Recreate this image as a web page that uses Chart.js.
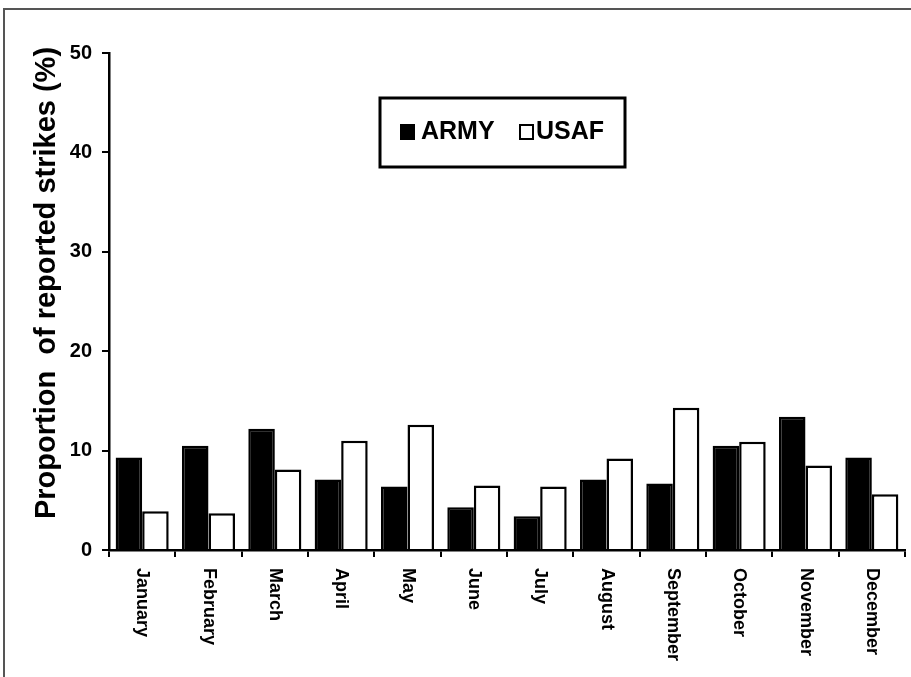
<!DOCTYPE html>
<html>
<head>
<meta charset="utf-8">
<title>Proportion of reported strikes</title>
<script src="https://cdn.jsdelivr.net/npm/chart.js@4"></script>
<style>
  html, body { margin: 0; padding: 0; background: #fff; overflow: hidden; }
  #wrap { position: relative; width: 911px; height: 677px; }
  #frame { position: absolute; left: 3px; top: 8px; width: 950px; height: 700px;
           border-left: 2px solid #555; border-top: 2px solid #555; }
  #c { position: absolute; left: 0; top: 0; }
</style>
</head>
<body>
<div id="wrap">
  <div id="frame"></div>
  <canvas id="c" width="911" height="677"></canvas>
</div>
<script>
const months = ["January","February","March","April","May","June","July","August","September","October","November","December"];
const army = [9.3, 10.5, 12.2, 7.1, 6.4, 4.3, 3.4, 7.1, 6.7, 10.5, 13.4, 9.3];
const usaf = [3.9, 3.7, 8.1, 11.0, 12.6, 6.5, 6.4, 9.2, 14.3, 10.9, 8.5, 5.6];
const yTicks = [0, 10, 20, 30, 40, 50];
const yTitle = "Proportion  of reported strikes (%)";

Chart.defaults.font.family = 'Arial, "Liberation Sans", sans-serif';
Chart.defaults.color = "#000";

// month names read top-to-bottom, so they are drawn here instead of by the axis
const monthLabels = {
  id: "monthLabels",
  afterDraw(chart) {
    const ctx = chart.ctx;
    const x = chart.scales.x;
    ctx.save();
    ctx.font = "bold 18px Arial, 'Liberation Sans', sans-serif";
    ctx.fillStyle = "#000";
    ctx.textAlign = "left";
    ctx.textBaseline = "middle";
    chart.data.labels.forEach((lab, i) => {
      ctx.save();
      ctx.translate(x.getPixelForValue(i), x.top + 18);
      ctx.rotate(Math.PI / 2);
      ctx.fillText(lab, 0, 0);
      ctx.restore();
    });
    ctx.restore();
  }
};

// y title sits a little above the middle of the axis in the original
const axisTitle = {
  id: "axisTitle",
  afterDraw(chart) {
    const ctx = chart.ctx;
    ctx.save();
    ctx.font = "bold 29px Arial, 'Liberation Sans', sans-serif";
    ctx.fillStyle = "#000";
    ctx.textAlign = "center";
    ctx.textBaseline = "middle";
    ctx.translate(47, 283);
    ctx.rotate(-Math.PI / 2);
    ctx.fillText(yTitle, 0, 0);
    ctx.restore();
  }
};

// boxed legend inside the plot
const boxLegend = {
  id: "boxLegend",
  afterDraw(chart) {
    const ctx = chart.ctx;
    const ds = chart.data.datasets;
    ctx.save();
    ctx.lineWidth = 3;
    ctx.strokeStyle = "#000";
    ctx.strokeRect(380, 98, 245, 69);
    ctx.font = "bold 25px Arial, 'Liberation Sans', sans-serif";
    ctx.textBaseline = "middle";
    ctx.textAlign = "left";
    const items = [{sx: 401, tx: 421}, {sx: 520, tx: 536}];
    ds.forEach((d, i) => {
      const it = items[i];
      ctx.fillStyle = d.backgroundColor;
      ctx.fillRect(it.sx, 125, 13, 14);
      ctx.lineWidth = 2;
      ctx.strokeRect(it.sx, 125, 13, 14);
      ctx.fillStyle = "#000";
      ctx.fillText(d.label, it.tx, 132);
    });
    ctx.restore();
  }
};

new Chart(document.getElementById("c"), {
  type: "bar",
  data: {
    labels: months,
    datasets: [
      {label: "ARMY", data: army, backgroundColor: "#000", borderColor: "#000", borderWidth: 2.5},
      {label: "USAF", data: usaf, backgroundColor: "#fff", borderColor: "#000", borderWidth: 2.5}
    ]
  },
  options: {
    responsive: false,
    animation: false,
    events: [],
    layout: {padding: {top: 53, right: 6, bottom: 120, left: 0}},
    datasets: {bar: {categoryPercentage: 0.8, barPercentage: 1.0}},
    plugins: {legend: {display: false}, tooltip: {enabled: false}},
    scales: {
      x: {
        ticks: {display: false},
        grid: {offset: true, drawOnChartArea: false, tickLength: 7, color: "#000", lineWidth: 2},
        border: {color: "#000", width: 2.5}
      },
      y: {
        min: 0, max: 50,
        afterBuildTicks: s => { s.ticks = yTicks.map(v => ({value: v})); },
        afterFit: s => { s.width = 109; },
        ticks: {font: {size: 20, weight: "bold"}, color: "#000", padding: 10},
        grid: {drawOnChartArea: false, tickLength: 7, color: "#000", lineWidth: 2},
        border: {color: "#000", width: 2.5}
      }
    }
  },
  plugins: [monthLabels, axisTitle, boxLegend]
});
</script>
</body>
</html>
